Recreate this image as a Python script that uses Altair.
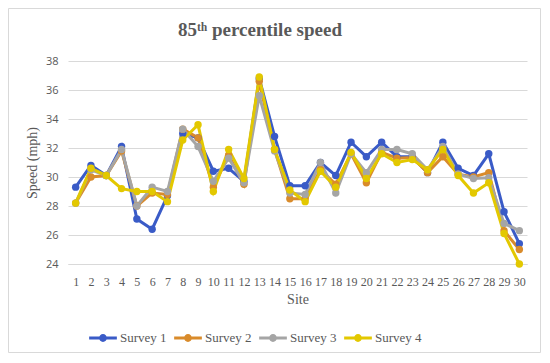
import altair as alt
import pandas as pd

sites = list(range(1, 31))
series = ["Survey 1", "Survey 2", "Survey 3", "Survey 4"]
colors = ["#3A5BC7", "#D98B2B", "#A5A5A5", "#E3C800"]
title_text = "85ᵗʰ percentile speed"

survey1 = [29.3, 30.8, 30.1, 32.1, 27.1, 26.4, 28.7, 33.0, 32.7, 30.4, 30.6, 29.7, 36.8, 32.8, 29.4,
           29.4, 31.0, 30.1, 32.4, 31.4, 32.4, 31.4, 31.4, 30.3, 32.4, 30.6, 30.1, 31.6, 27.6, 25.4]
survey2 = [28.2, 30.0, 30.1, 31.8, 28.0, 28.9, 28.8, 33.3, 32.7, 29.3, 31.5, 29.5, 36.6, 31.9, 28.5,
           28.5, 30.5, 29.5, 31.6, 29.6, 31.7, 31.3, 31.35, 30.3, 31.4, 30.2, 30.0, 30.3, 26.3, 25.0]
survey3 = [28.2, 30.5, 30.1, 31.9, 28.0, 29.3, 29.0, 33.3, 32.1, 29.7, 31.3, 29.6, 35.6, 31.8, 28.9,
           28.8, 31.0, 28.9, 31.6, 30.3, 31.9, 31.9, 31.6, 30.5, 32.1, 30.2, 29.9, 29.95, 26.8, 26.3]
survey4 = [28.2, 30.6, 30.1, 29.2, 29.0, 29.0, 28.3, 32.55, 33.6, 29.0, 31.9, 29.9, 36.9, 31.9, 29.1,
           28.3, 30.4, 29.3, 31.7, 29.9, 31.6, 31.0, 31.2, 30.5, 31.9, 30.1, 28.9, 29.6, 26.1, 24.0]

rows = []
for name, vals in zip(series, [survey1, survey2, survey3, survey4]):
    for s, v in zip(sites, vals):
        rows.append({"Site": str(s), "Survey": name, "Speed": v, "order": series.index(name)})
df = pd.DataFrame(rows)

serif = "Liberation Serif"
sans = "Open Sans"
gray_text = "#595959"

legend_symbol = ("M-1.6,-0.16 L-0.42,-0.16 L-0.42,0.16 L-1.6,0.16 Z "
                 "M0.42,-0.16 L1.6,-0.16 L1.6,0.16 L0.42,0.16 Z "
                 "M0.45,0 A0.45,0.45 0 1,1 -0.45,0 A0.45,0.45 0 1,1 0.45,0 Z")

x = alt.X("Site:O", sort=[str(s) for s in sites],
          scale=alt.Scale(type="point", padding=0.5),
          axis=alt.Axis(title="Site", labelAngle=0, labelFont=serif, labelFontSize=12,
                        labelColor=gray_text, titleFont=serif, titleFontSize=14,
                        titleFontWeight="normal", titleColor=gray_text, ticks=False,
                        domainColor="#D9D9D9", labelPadding=12, titlePadding=5, grid=False))
y = alt.Y("Speed:Q", scale=alt.Scale(domain=[24, 38], nice=False, zero=False),
          axis=alt.Axis(title="Speed (mph)", values=[24, 26, 28, 30, 32, 34, 36, 38],
                        labelFont=sans, labelFontSize=11, labelColor=gray_text,
                        titleFont=serif, titleFontSize=14, titleFontWeight="normal",
                        titleColor=gray_text, ticks=False, domain=False,
                        gridColor="#D9D9D9", labelPadding=10, titlePadding=6))
color = alt.Color("Survey:N", scale=alt.Scale(domain=series, range=colors),
                  legend=alt.Legend(title=None, orient="none", direction="horizontal",
                                    legendX=26, legendY=268, symbolType=legend_symbol,
                                    symbolSize=300, symbolStrokeWidth=0, labelFont=serif,
                                    labelFontSize=13, labelColor=gray_text,
                                    columnPadding=7, labelOffset=8, symbolOpacity=1))

base = alt.Chart(df)
lines = base.mark_line(strokeWidth=3).encode(x=x, y=y, color=color, order="order:Q")
points = base.mark_point(filled=True, size=55, opacity=1).encode(
    x=x, y=y, color=alt.Color("Survey:N", scale=alt.Scale(domain=series, range=colors), legend=None))

one = pd.DataFrame({"t": [title_text]})
frame = alt.Chart(one).mark_rect(
    filled=False, fillOpacity=0, stroke="#D9D9D9", strokeWidth=1, clip=False
).encode(x=alt.value(-59.5), x2=alt.value(472.5), y=alt.value(-52.5), y2=alt.value(291.5))
title = alt.Chart(one).mark_text(
    font=serif, fontSize=19, fontWeight="bold", color=gray_text, align="center",
    baseline="middle", clip=False
).encode(text="t:N", x=alt.value(192), y=alt.value(-31))

chart = alt.layer(frame, title, lines, points).properties(
    width=459, height=203,
    autosize=alt.AutoSizeParams(type="none"),
    padding={"left": 60, "top": 53, "right": 15, "bottom": 90},
).configure_view(stroke=None)

chart.save("out.html", embed_options={"renderer": "svg", "actions": False})
